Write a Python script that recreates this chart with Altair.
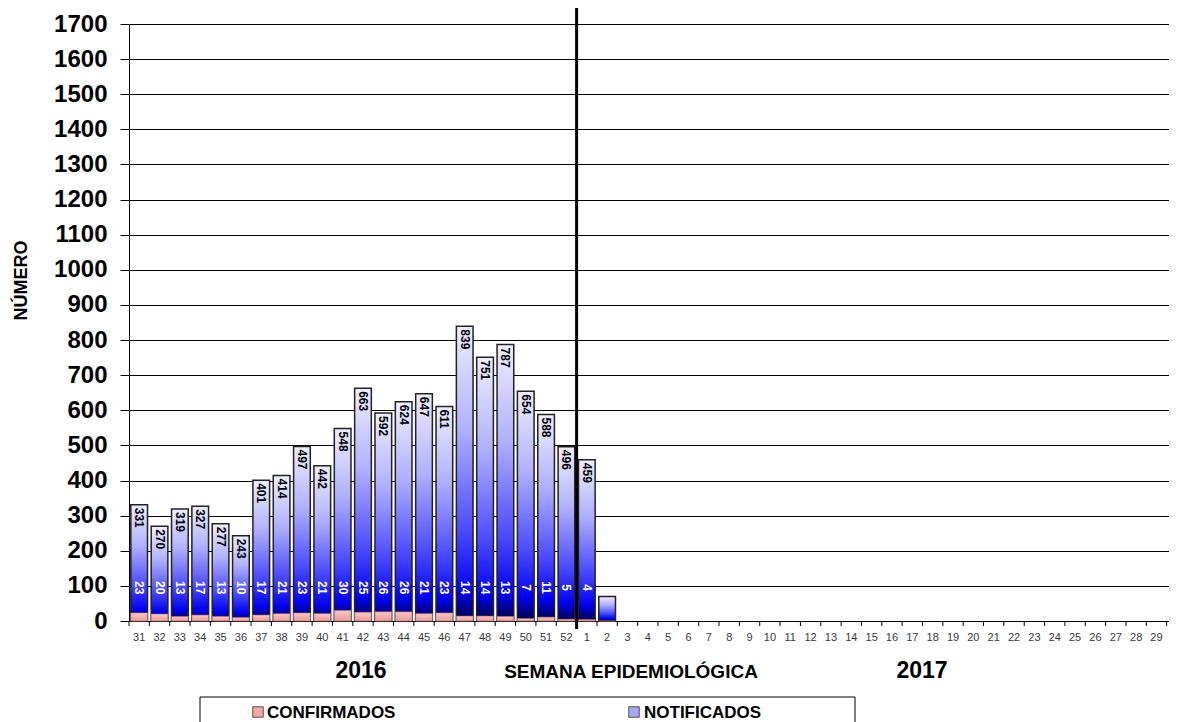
import altair as alt
import pandas as pd

# ---- data ----
semanas = ["31", "32", "33", "34", "35", "36", "37", "38", "39", "40", "41",
           "42", "43", "44", "45", "46", "47", "48", "49", "50", "51", "52",
           "1", "2", "3", "4", "5", "6", "7", "8", "9", "10", "11", "12", "13",
           "14", "15", "16", "17", "18", "19", "20", "21", "22", "23", "24",
           "25", "26", "27", "28", "29", "30"]
semanas_con_datos = semanas[:24]
notificados = [331, 270, 319, 327, 277, 243, 401, 414, 497, 442, 548, 663,
               592, 624, 647, 611, 839, 751, 787, 654, 588, 496, 459, 70]
confirmados = [23, 20, 13, 17, 13, 10, 17, 21, 23, 21, 30, 25,
               26, 26, 21, 23, 14, 14, 13, 7, 11, 5, 4, 0]
n_etiquetas = 23
leyenda = ["CONFIRMADOS", "NOTIFICADOS"]
anios = ["2016", "2017"]
titulo_x = "SEMANA EPIDEMIOLÓGICA"
titulo_y = "NÚMERO"
y_ticks = list(range(0, 1800, 100))

df = pd.DataFrame({"semana": semanas_con_datos,
                   "notificados": notificados,
                   "confirmados": confirmados})
df_lab = df.iloc[:n_etiquetas]
df_sem = pd.DataFrame({"semana": semanas})

W, H = 1040, 597
RANGE_W = 1058
FONT = "Liberation Sans"
STEP = RANGE_W / len(semanas)

xscale = alt.Scale(domain=semanas, range=[0, RANGE_W],
                   paddingInner=0.18, paddingOuter=0.09)
yscale = alt.Scale(domain=[0, 1700], nice=False)

xaxis = alt.Axis(title=None, labelAngle=0, labelFont=FONT, labelFontSize=11,
                 labelColor="#3a3a3a", domainColor="black", ticks=False,
                 labelPadding=10, grid=False)
yaxis = alt.Axis(values=y_ticks, format="d", grid=True, gridColor="black",
                 gridOpacity=1, gridWidth=1, domainColor="black",
                 tickColor="black", tickSize=9,
                 labelFont=FONT, labelFontSize=24, labelFontWeight="bold",
                 labelColor="black", labelPadding=13, title=titulo_y,
                 titleFont=FONT, titleFontSize=18, titleFontWeight="bold",
                 titleColor="black", titleX=-108, titleY=256, titleAngle=270,
                 titleAlign="center", titleBaseline="middle")

grad_blue = alt.Gradient(
    gradient="linear", x1=0, x2=0, y1=0, y2=1,
    stops=[alt.GradientStop(color="#eeeeff", offset=0),
           alt.GradientStop(color="#b0b0ff", offset=0.35),
           alt.GradientStop(color="#4848ff", offset=0.7),
           alt.GradientStop(color="#0000f0", offset=0.9),
           alt.GradientStop(color="#000040", offset=1)])
grad_pink = alt.Gradient(
    gradient="linear", x1=0, x2=0, y1=0, y2=1,
    stops=[alt.GradientStop(color="#f8c8c8", offset=0),
           alt.GradientStop(color="#ec9a9a", offset=1)])


def xenc(**kw):
    return alt.X("semana:N", sort=semanas, scale=xscale, axis=xaxis, **kw)


def yenc(field):
    return alt.Y(field, scale=yscale, axis=yaxis)


bars_n = alt.Chart(df).mark_bar(fill=grad_blue, stroke="#222222",
                                strokeWidth=1.5).encode(
    x=xenc(), y=yenc("notificados:Q"))
bars_c = alt.Chart(df).mark_bar(fill=grad_pink, stroke="#b07070",
                                strokeWidth=0.5).encode(
    x=xenc(), y=yenc("confirmados:Q"))

lab_n = alt.Chart(df_lab).mark_text(
    angle=90, align="left", baseline="middle", dx=3, font=FONT, fontSize=12,
    fontWeight="bold", color="black").encode(
    x=xenc(), y=yenc("notificados:Q"), text="notificados:Q")
lab_c = alt.Chart(df_lab).transform_calculate(pos="95").mark_text(
    angle=90, align="center", baseline="middle", font=FONT, fontSize=12,
    fontWeight="bold", color="white").encode(
    x=xenc(), y=yenc("pos:Q"), text="confirmados:Q")

ticks_x = alt.Chart(df_sem).mark_rule(color="black", strokeWidth=1,
                                      xOffset=-STEP * 0.09).encode(
    x=xenc(bandPosition=0), y=alt.value(H), y2=alt.value(H + 5))

sep = alt.Chart(pd.DataFrame({"semana": ["1"]})).mark_rule(
    color="black", strokeWidth=3, xOffset=-STEP * 0.09).encode(
    x=xenc(bandPosition=0), y=alt.value(-18), y2=alt.value(H + 8))

one = pd.DataFrame({"a": [0]})
t2016 = alt.Chart(one).mark_text(font=FONT, fontSize=23, fontWeight="bold",
                                 color="black").encode(
    x=alt.value(232), y=alt.value(647), text=alt.value(anios[0]))
t2017 = alt.Chart(one).mark_text(font=FONT, fontSize=23, fontWeight="bold",
                                 color="black").encode(
    x=alt.value(793), y=alt.value(647), text=alt.value(anios[1]))
tsem = alt.Chart(one).mark_text(font=FONT, fontSize=19, fontWeight="bold",
                                color="black").encode(
    x=alt.value(502), y=alt.value(648), text=alt.value(titulo_x))

box = alt.Chart(one).mark_rect(fill="white", stroke="black", strokeWidth=1).encode(
    x=alt.value(71), x2=alt.value(726), y=alt.value(673), y2=alt.value(730))
sq_c = alt.Chart(one).mark_square(size=110, fill="#f4a8a8", stroke="#555555",
                                  strokeWidth=1, opacity=1).encode(
    x=alt.value(129), y=alt.value(688))
sq_n = alt.Chart(one).mark_square(size=110, fill="#a8a8f4", stroke="#555555",
                                  strokeWidth=1, opacity=1).encode(
    x=alt.value(505), y=alt.value(688))
tl_c = alt.Chart(one).mark_text(font=FONT, fontSize=17, fontWeight="bold",
                                align="left", baseline="middle",
                                color="black").encode(
    x=alt.value(138), y=alt.value(689), text=alt.value(leyenda[0]))
tl_n = alt.Chart(one).mark_text(font=FONT, fontSize=17, fontWeight="bold",
                                align="left", baseline="middle",
                                color="black").encode(
    x=alt.value(515), y=alt.value(689), text=alt.value(leyenda[1]))

chart = alt.layer(bars_n, bars_c, lab_n, lab_c, ticks_x, sep, t2016, tsem,
                  t2017, box, sq_c, sq_n, tl_c, tl_n).properties(
    width=W, height=H,
    autosize=alt.AutoSizeParams(type="none"),
    padding={"left": 121, "top": 16, "right": 0, "bottom": 105},
    background="white",
).configure_view(stroke=None)

chart.save("out.html", embed_options={"renderer": "svg", "actions": False})
